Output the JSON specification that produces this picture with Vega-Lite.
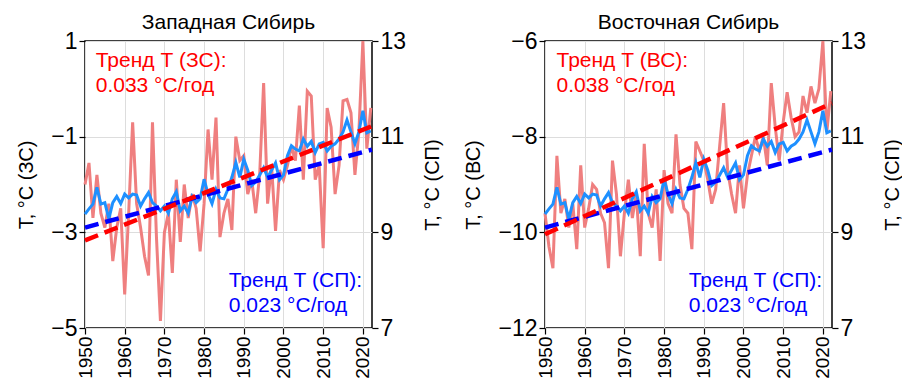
{
  "$schema": "https://vega.github.io/schema/vega-lite/v6.json",
  "background": "white",
  "padding": {"left": 16, "top": 11, "right": 0, "bottom": 0},
  "config": {
    "font": "Liberation Sans",
    "view": {"stroke": "black", "strokeWidth": 1.5},
    "axis": {"labelFont": "Liberation Sans", "titleFont": "Liberation Sans", "labelColor": "black", "titleColor": "black", "tickColor": "black", "domain": false, "gridColor": "#dddddd", "labelFontSize": 23, "titleFontSize": 20, "titleFontWeight": "normal", "tickSize": 6, "tickWidth": 1.2, "labelPadding": 2},
    "title": {"fontSize": 21, "fontWeight": "normal", "font": "Liberation Sans", "color": "black", "offset": -3},
    "concat": {"spacing": 19}
  },
  "datasets": {
    "sp": [
      {"year":1950,"t":9.38},{"year":1951,"t":9.49},{"year":1952,"t":9.59},{"year":1953,"t":9.94},{"year":1954,"t":9.59},{"year":1955,"t":9.62},{"year":1956,"t":9.28},{"year":1957,"t":9.62},{"year":1958,"t":9.75},{"year":1959,"t":9.60},
      {"year":1960,"t":9.80},{"year":1961,"t":9.72},{"year":1962,"t":9.80},{"year":1963,"t":9.78},{"year":1964,"t":9.55},{"year":1965,"t":9.70},{"year":1966,"t":9.83},{"year":1967,"t":9.62},{"year":1968,"t":9.55},{"year":1969,"t":9.45},
      {"year":1970,"t":9.55},{"year":1971,"t":9.40},{"year":1972,"t":9.70},{"year":1973,"t":9.85},{"year":1974,"t":9.45},{"year":1975,"t":9.55},{"year":1976,"t":9.40},{"year":1977,"t":9.75},{"year":1978,"t":9.62},{"year":1979,"t":9.70},
      {"year":1980,"t":10.11},{"year":1981,"t":9.80},{"year":1982,"t":9.60},{"year":1983,"t":9.90},{"year":1984,"t":9.72},{"year":1985,"t":9.70},{"year":1986,"t":9.90},{"year":1987,"t":10.15},{"year":1988,"t":10.46},{"year":1989,"t":10.15},
      {"year":1990,"t":10.53},{"year":1991,"t":10.30},{"year":1992,"t":9.98},{"year":1993,"t":10.05},{"year":1994,"t":10.20},{"year":1995,"t":10.35},{"year":1996,"t":10.15},{"year":1997,"t":10.30},{"year":1998,"t":10.45},{"year":1999,"t":10.10},
      {"year":2000,"t":10.20},{"year":2001,"t":10.60},{"year":2002,"t":10.81},{"year":2003,"t":10.74},{"year":2004,"t":10.70},{"year":2005,"t":10.95},{"year":2006,"t":10.80},{"year":2007,"t":10.90},{"year":2008,"t":10.67},{"year":2009,"t":10.85},
      {"year":2010,"t":10.88},{"year":2011,"t":10.70},{"year":2012,"t":10.80},{"year":2013,"t":10.85},{"year":2014,"t":10.95},{"year":2015,"t":11.10},{"year":2016,"t":11.35},{"year":2017,"t":11.10},{"year":2018,"t":10.85},{"year":2019,"t":11.10},
      {"year":2020,"t":11.54},{"year":2021,"t":11.08},{"year":2022,"t":11.12}
    ],
    "zs": [
      {"year":1950,"t":-2.0},{"year":1951,"t":-1.55},{"year":1952,"t":-2.7},{"year":1953,"t":-1.8},{"year":1954,"t":-2.6},{"year":1955,"t":-2.9},{"year":1956,"t":-2.4},{"year":1957,"t":-3.6},{"year":1958,"t":-2.9},{"year":1959,"t":-2.5},
      {"year":1960,"t":-4.3},{"year":1961,"t":-2.6},{"year":1962,"t":-0.7},{"year":1963,"t":-2.4},{"year":1964,"t":-2.9},{"year":1965,"t":-3.5},{"year":1966,"t":-3.9},{"year":1967,"t":-0.7},{"year":1968,"t":-3.1},{"year":1969,"t":-4.85},
      {"year":1970,"t":-3.0},{"year":1971,"t":-2.6},{"year":1972,"t":-3.85},{"year":1973,"t":-1.9},{"year":1974,"t":-3.2},{"year":1975,"t":-2.0},{"year":1976,"t":-2.7},{"year":1977,"t":-2.2},{"year":1978,"t":-2.5},{"year":1979,"t":-3.4},
      {"year":1980,"t":-2.4},{"year":1981,"t":-0.85},{"year":1982,"t":-1.9},{"year":1983,"t":-0.6},{"year":1984,"t":-3.1},{"year":1985,"t":-2.6},{"year":1986,"t":-2.3},{"year":1987,"t":-2.95},{"year":1988,"t":-1.0},{"year":1989,"t":-1.5},
      {"year":1990,"t":-1.4},{"year":1991,"t":-2.2},{"year":1992,"t":-1.9},{"year":1993,"t":-2.6},{"year":1994,"t":-1.8},{"year":1995,"t":0.12},{"year":1996,"t":-2.4},{"year":1997,"t":-1.6},{"year":1998,"t":-2.97},{"year":1999,"t":-1.7},
      {"year":2000,"t":-1.9},{"year":2001,"t":-1.6},{"year":2002,"t":-1.2},{"year":2003,"t":-1.5},{"year":2004,"t":-0.35},{"year":2005,"t":-1.9},{"year":2006,"t":-0.05},{"year":2007,"t":-0.15},{"year":2008,"t":-1.9},{"year":2009,"t":-1.6},
      {"year":2010,"t":-3.33},{"year":2011,"t":-0.4},{"year":2012,"t":-0.8},{"year":2013,"t":-2.2},{"year":2014,"t":-1.6},{"year":2015,"t":-0.25},{"year":2016,"t":-0.22},{"year":2017,"t":-0.5},{"year":2018,"t":-1.8},{"year":2019,"t":-0.9},
      {"year":2020,"t":1.0},{"year":2021,"t":-1.25},{"year":2022,"t":-0.4}
    ],
    "vs": [
      {"year":1950,"t":-9.6},{"year":1951,"t":-10.3},{"year":1952,"t":-10.75},{"year":1953,"t":-8.4},{"year":1954,"t":-9.6},{"year":1955,"t":-9.3},{"year":1956,"t":-9.9},{"year":1957,"t":-9.4},{"year":1958,"t":-10.35},{"year":1959,"t":-8.6},
      {"year":1960,"t":-9.9},{"year":1961,"t":-9.5},{"year":1962,"t":-9.0},{"year":1963,"t":-9.1},{"year":1964,"t":-9.6},{"year":1965,"t":-9.8},{"year":1966,"t":-10.75},{"year":1967,"t":-8.5},{"year":1968,"t":-9.2},{"year":1969,"t":-10.5},
      {"year":1970,"t":-9.6},{"year":1971,"t":-8.9},{"year":1972,"t":-9.7},{"year":1973,"t":-9.2},{"year":1974,"t":-10.5},{"year":1975,"t":-8.15},{"year":1976,"t":-9.6},{"year":1977,"t":-9.9},{"year":1978,"t":-9.1},{"year":1979,"t":-10.6},
      {"year":1980,"t":-8.7},{"year":1981,"t":-9.4},{"year":1982,"t":-9.6},{"year":1983,"t":-7.95},{"year":1984,"t":-9.0},{"year":1985,"t":-9.5},{"year":1986,"t":-9.6},{"year":1987,"t":-10.35},{"year":1988,"t":-8.1},{"year":1989,"t":-8.3},
      {"year":1990,"t":-8.5},{"year":1991,"t":-8.9},{"year":1992,"t":-9.4},{"year":1993,"t":-9.1},{"year":1994,"t":-8.2},{"year":1995,"t":-7.3},{"year":1996,"t":-8.7},{"year":1997,"t":-9.2},{"year":1998,"t":-9.6},{"year":1999,"t":-8.6},
      {"year":2000,"t":-9.5},{"year":2001,"t":-8.8},{"year":2002,"t":-8.4},{"year":2003,"t":-8.0},{"year":2004,"t":-8.3},{"year":2005,"t":-8.0},{"year":2006,"t":-8.6},{"year":2007,"t":-6.88},{"year":2008,"t":-7.8},{"year":2009,"t":-8.5},
      {"year":2010,"t":-7.7},{"year":2011,"t":-7.07},{"year":2012,"t":-7.6},{"year":2013,"t":-8.0},{"year":2014,"t":-7.9},{"year":2015,"t":-7.15},{"year":2016,"t":-7.5},{"year":2017,"t":-6.95},{"year":2018,"t":-7.3},{"year":2019,"t":-7.0},
      {"year":2020,"t":-6.0},{"year":2021,"t":-7.9},{"year":2022,"t":-7.05}
    ],
    "tr_sp": [{"year":1950,"t":9.10},{"year":2022.3,"t":10.73}],
    "tr_zs": [{"year":1950,"t":-3.17},{"year":2022.3,"t":-0.78}],
    "tr_vs": [{"year":1950,"t":-10.04},{"year":2022.3,"t":-7.3}],
    "lab_zs": [{"year":1952.7,"t":0.58,"label":"Тренд Т (ЗС):"},{"year":1952.7,"t":0.06,"label":"0.033 °С/год"}],
    "lab_vs": [{"year":1952.9,"t":-6.42,"label":"Тренд Т (ВС):"},{"year":1952.9,"t":-6.94,"label":"0.038 °С/год"}],
    "lab_sp": [{"year":1986.2,"t":7.98,"label":"Тренд Т (СП):"},{"year":1986.2,"t":7.46,"label":"0.023 °С/год"}]
  },
  "hconcat": [
    {
      "title": {"text": "Западная Сибирь"},
      "width": 287,
      "height": 287,
      "encoding": {
        "x": {"field": "year", "type": "quantitative", "scale": {"domain": [1950, 2022.3], "nice": false, "zero": false},
              "axis": {"title": null, "values": [1950,1960,1970,1980,1990,2000,2010,2020], "format": "d", "labelAngle": 270, "labelFontSize": 19, "grid": true}}
      },
      "resolve": {"scale": {"y": "independent"}},
      "layer": [
        {"data": {"name": "zs"}, "mark": {"type": "line", "color": "#ef7f7f", "strokeWidth": 3},
         "encoding": {"y": {"field": "t", "type": "quantitative", "scale": {"domain": [-5, 1], "nice": false, "zero": false},
           "axis": {"title": "T, °C (ЗС)", "values": [-5,-3,-1,1], "format": "d", "grid": true, "titlePadding": 14}}}},
        {"data": {"name": "sp"}, "mark": {"type": "line", "color": "#1e90ff", "strokeWidth": 3},
         "encoding": {"y": {"field": "t", "type": "quantitative", "scale": {"domain": [7, 13], "nice": false, "zero": false},
           "axis": {"title": "T, °C (СП)", "orient": "right", "values": [7,9,11,13], "format": "d", "grid": false, "titleAngle": 270, "titlePadding": 37}}}},
        {"data": {"name": "tr_sp"}, "mark": {"type": "line", "color": "#0000ff", "strokeWidth": 4.5, "strokeDash": [14, 7]},
         "encoding": {"y": {"field": "t", "type": "quantitative", "scale": {"domain": [7, 13], "nice": false, "zero": false}, "axis": null}}},
        {"data": {"name": "tr_zs"}, "mark": {"type": "line", "color": "#ff0000", "strokeWidth": 4.5, "strokeDash": [14, 7]},
         "encoding": {"y": {"field": "t", "type": "quantitative", "scale": {"domain": [-5, 1], "nice": false, "zero": false}, "axis": null}}},
        {"data": {"name": "lab_zs"}, "mark": {"type": "text", "align": "left", "baseline": "middle", "fontSize": 21, "color": "#ff0000"},
         "encoding": {"y": {"field": "t", "type": "quantitative", "scale": {"domain": [-5, 1], "nice": false, "zero": false}, "axis": null}, "text": {"field": "label"}}},
        {"data": {"name": "lab_sp"}, "mark": {"type": "text", "align": "left", "baseline": "middle", "fontSize": 21, "color": "#0000ff"},
         "encoding": {"y": {"field": "t", "type": "quantitative", "scale": {"domain": [7, 13], "nice": false, "zero": false}, "axis": null}, "text": {"field": "label"}}}
      ]
    },
    {
      "title": {"text": "Восточная Сибирь"},
      "width": 287,
      "height": 287,
      "encoding": {
        "x": {"field": "year", "type": "quantitative", "scale": {"domain": [1950, 2022.3], "nice": false, "zero": false},
              "axis": {"title": null, "values": [1950,1960,1970,1980,1990,2000,2010,2020], "format": "d", "labelAngle": 270, "labelFontSize": 19, "grid": true}}
      },
      "resolve": {"scale": {"y": "independent"}},
      "layer": [
        {"data": {"name": "vs"}, "mark": {"type": "line", "color": "#ef7f7f", "strokeWidth": 3},
         "encoding": {"y": {"field": "t", "type": "quantitative", "scale": {"domain": [-12, -6], "nice": false, "zero": false},
           "axis": {"title": "T, °C (ВС)", "values": [-12,-10,-8,-6], "format": "d", "grid": true, "titlePadding": 14}}}},
        {"data": {"name": "sp"}, "mark": {"type": "line", "color": "#1e90ff", "strokeWidth": 3},
         "encoding": {"y": {"field": "t", "type": "quantitative", "scale": {"domain": [7, 13], "nice": false, "zero": false},
           "axis": {"title": "T, °C (СП)", "orient": "right", "values": [7,9,11,13], "format": "d", "grid": false, "titleAngle": 270, "titlePadding": 37}}}},
        {"data": {"name": "tr_sp"}, "mark": {"type": "line", "color": "#0000ff", "strokeWidth": 4.5, "strokeDash": [14, 7]},
         "encoding": {"y": {"field": "t", "type": "quantitative", "scale": {"domain": [7, 13], "nice": false, "zero": false}, "axis": null}}},
        {"data": {"name": "tr_vs"}, "mark": {"type": "line", "color": "#ff0000", "strokeWidth": 4.5, "strokeDash": [14, 7]},
         "encoding": {"y": {"field": "t", "type": "quantitative", "scale": {"domain": [-12, -6], "nice": false, "zero": false}, "axis": null}}},
        {"data": {"name": "lab_vs"}, "mark": {"type": "text", "align": "left", "baseline": "middle", "fontSize": 21, "color": "#ff0000"},
         "encoding": {"y": {"field": "t", "type": "quantitative", "scale": {"domain": [-12, -6], "nice": false, "zero": false}, "axis": null}, "text": {"field": "label"}}},
        {"data": {"name": "lab_sp"}, "mark": {"type": "text", "align": "left", "baseline": "middle", "fontSize": 21, "color": "#0000ff"},
         "encoding": {"y": {"field": "t", "type": "quantitative", "scale": {"domain": [7, 13], "nice": false, "zero": false}, "axis": null}, "text": {"field": "label"}}}
      ]
    }
  ]
}
